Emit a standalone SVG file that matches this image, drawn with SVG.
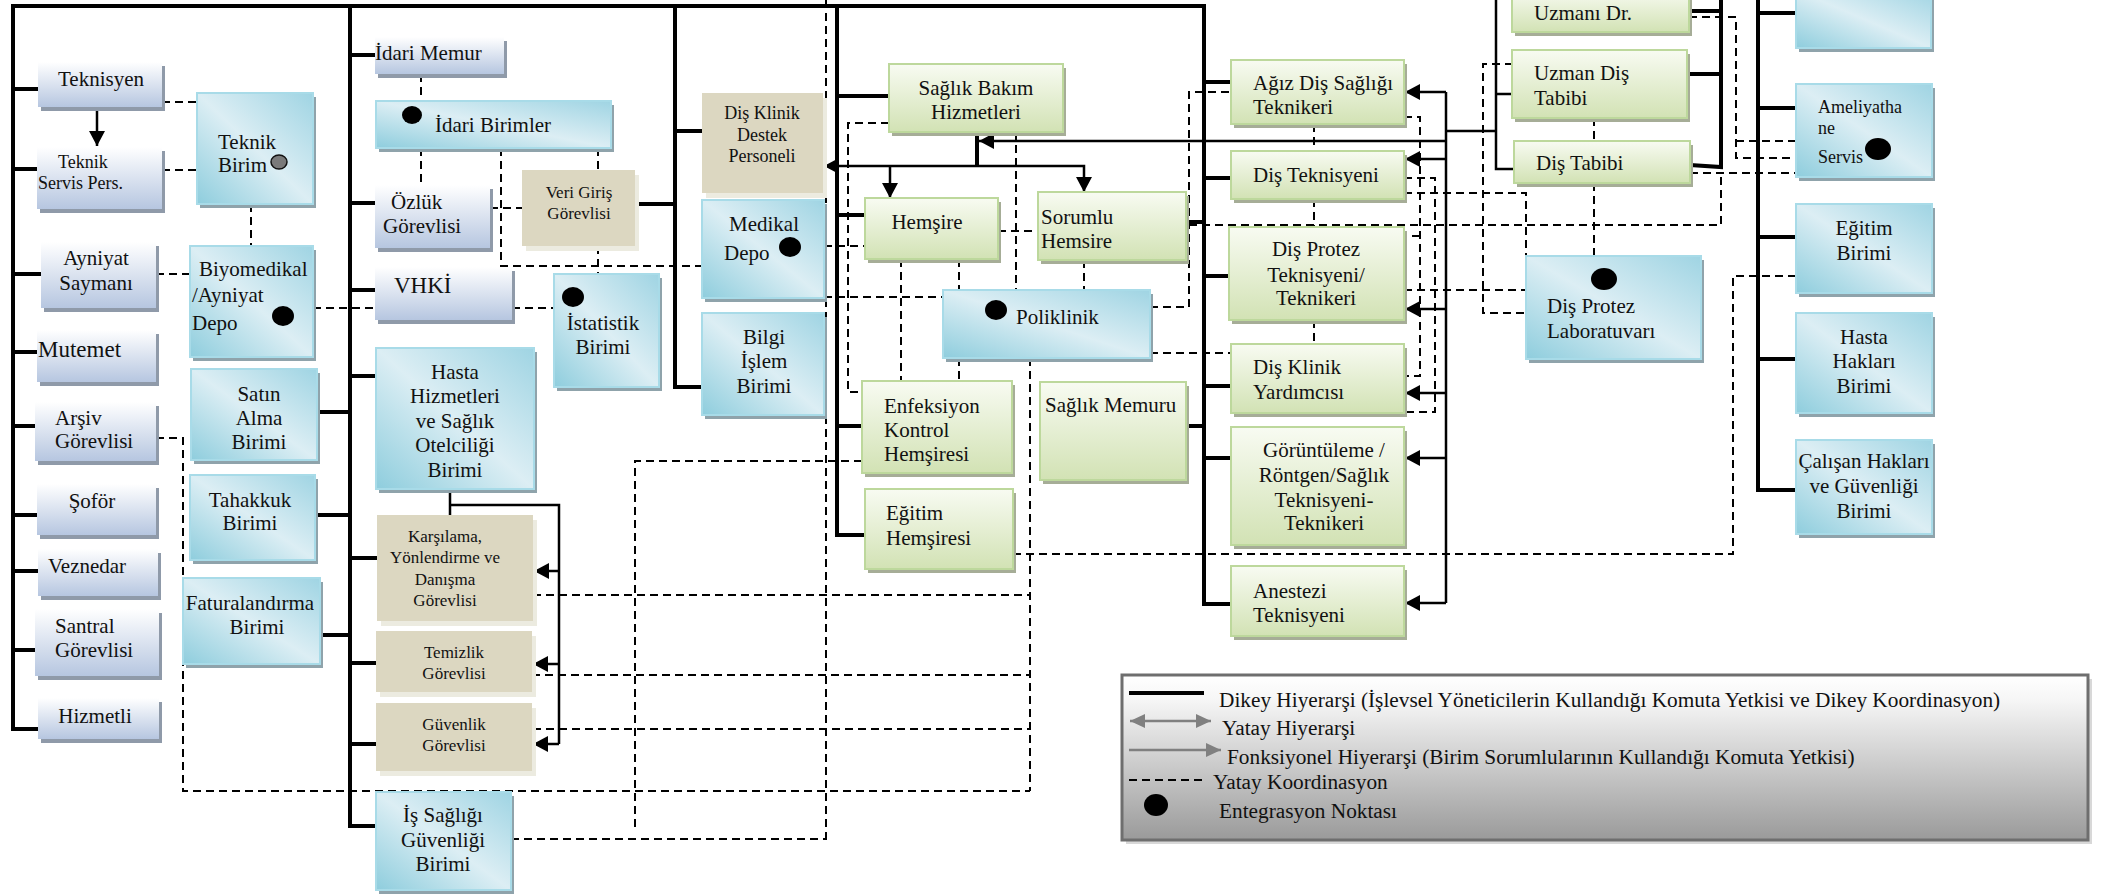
<svg xmlns="http://www.w3.org/2000/svg" width="2109" height="896" viewBox="0 0 2109 896">
<defs>
<linearGradient id="gBl" x1="0" y1="0" x2="0" y2="1"><stop offset="0" stop-color="#ffffff"/><stop offset="1" stop-color="#b6c6e0"/></linearGradient>
<linearGradient id="gCy" x1="0" y1="1" x2="1" y2="0"><stop offset="0" stop-color="#8ecddd"/><stop offset="0.5" stop-color="#dceef4"/><stop offset="1" stop-color="#9fd4e3"/></linearGradient>
<linearGradient id="gGr" x1="0" y1="0" x2="0" y2="1"><stop offset="0" stop-color="#f8fbf2"/><stop offset="1" stop-color="#d2e2b4"/></linearGradient>
<linearGradient id="gLg" x1="0" y1="0" x2="0" y2="1"><stop offset="0" stop-color="#ffffff"/><stop offset="0.15" stop-color="#f6f6f6"/><stop offset="1" stop-color="#9a9a9a"/></linearGradient>
<marker id="ah" markerUnits="userSpaceOnUse" markerWidth="16" markerHeight="16" refX="15" refY="8" orient="auto"><path d="M0,0 L15,8 L0,16 z" fill="#000"/></marker>
<marker id="ahg" markerUnits="userSpaceOnUse" markerWidth="16" markerHeight="16" refX="15" refY="8" orient="auto-start-reverse"><path d="M0,1 L15,8 L0,15 z" fill="#808080"/></marker>
<style>
.t{font-family:"Liberation Serif","Times New Roman",serif;fill:#111;font-size:21px}
.s{font-size:18px}
.s17{font-size:17px}
.b{font-size:23px}
.lg{font-size:21.3px}
.m{text-anchor:middle}
.bl{fill:url(#gBl)}
.shb{fill:#8f9aa9}
.cy{fill:url(#gCy);stroke:#a8dbe8;stroke-width:2}
.shc{fill:#8fa3ab}
.gr{fill:url(#gGr);stroke:#bdd89c;stroke-width:2}
.shg{fill:#a6ad97}
.bg{fill:#dcd7c1}
.shy{fill:#ecebe0}
.v{fill:none;stroke:#000;stroke-width:4}
.f{fill:none;stroke:#000;stroke-width:2.5}
.d{fill:none;stroke:#000;stroke-width:2;stroke-dasharray:8 5}
.dot{fill:#000}
</style>
</defs>
<rect width="2109" height="896" fill="#fff"/>

<g id="connectors">
<path class="v" d="M11,6 H1204 V604 H1231"/>
<path class="v" d="M13,6 V729 H38 M13,89 H38 M13,169 H37 M13,274 H41 M13,352 H37 M13,426 H35 M13,515 H37 M13,571 H38 M13,650 H35"/>
<path class="v" d="M350,6 V826 H376 M350,55 H375 M350,203 H375 M350,290 H375 M350,376 H376 M350,558 H377 M350,663 H376 M350,744 H376 M350,412 H317 M350,515 H315 M350,635 H320"/>
<path class="v" d="M675,6 V387 H702 M675,131 H702 M675,204 H635"/>
<path class="v" d="M837,6 V535 H865 M837,96 H889 M837,215 H865 M837,426 H862"/>
<path class="v" d="M1204,222 H1186 M1204,426 H1186 M1204,82 H1231 M1204,178 H1231 M1204,276 H1229 M1204,386 H1231 M1204,458 H1231"/>
<path class="v" d="M1721,0 V167 L1690,165 M1689,11 H1721 M1687,74 H1721"/>
<path class="v" d="M1758,0 V490 H1796 M1758,13 H1796 M1758,108 H1796 M1758,237 H1796 M1758,359 H1796"/>
<path class="v" d="M977,132 V166"/>
<path class="f" stroke-width="3" d="M97,107 V146" marker-end="url(#ah)"/>
<path class="f" stroke-width="3" d="M977,166 H824" marker-end="url(#ah)"/>
<path class="f" stroke-width="3" d="M977,166 H1084 V192" marker-end="url(#ah)"/>
<path class="f" stroke-width="3" d="M890,166 V198" marker-end="url(#ah)"/>
<path class="f" d="M1446,141 H979" marker-end="url(#ah)"/>
<path class="f" d="M1446,131 H1496 M1496,0 V169 H1514 M1496,94 H1512"/>
<path class="f" d="M1446,92 V603"/>
<path class="f" d="M1446,92 H1405" marker-end="url(#ah)"/>
<path class="f" d="M1446,159 H1405" marker-end="url(#ah)"/>
<path class="f" d="M1446,309 H1405" marker-end="url(#ah)"/>
<path class="f" d="M1446,393 H1405" marker-end="url(#ah)"/>
<path class="f" d="M1446,458 H1405" marker-end="url(#ah)"/>
<path class="f" d="M1446,603 H1405" marker-end="url(#ah)"/>
<path class="f" d="M450,489 V515 M450,505 H559 V744"/>
<path class="f" d="M559,571 H534" marker-end="url(#ah)"/>
<path class="f" d="M559,664 H533" marker-end="url(#ah)"/>
<path class="f" d="M559,744 H533" marker-end="url(#ah)"/>
<path class="d" d="M162,102 H197 M162,170 H197 M251,204 V246 M156,274 H190 M313,308 H375"/>
<path class="d" d="M156,438 H183 V791 H1030"/>
<path class="d" d="M421,74 V101 M421,148 V185 M501,148 V266 H702 M598,148 V170 M490,208 H522 M598,246 V274 M512,308 H554"/>
<path class="d" d="M826,0 V843 M511,839 H826"/>
<path class="d" d="M824,246 H865 M824,297 H943 M889,123 H848 V392 H862"/>
<path class="d" d="M998,231 H1038 M1016,132 V290 M901,259 V381 M959,259 V290 M959,358 V381 M1084,260 V290"/>
<path class="d" d="M1150,307 H1189 V92 H1231 M1189,225 H1721 V174 M1690,173 H1796 M1150,353 H1231"/>
<path class="d" d="M1314,124 V151 M1314,199 V227 M1314,320 V344"/>
<path class="d" d="M1404,117 H1420 V376 H1404 M1420,236 H1404 M1404,178 H1435 V412 H1404"/>
<path class="d" d="M1404,193 H1526 V256 M1404,290 H1526 M1513,64 H1483 V313 H1526 M1594,118 V141 M1594,183 V256"/>
<path class="d" d="M1689,17 H1736 V158 H1796 M1736,141 H1796"/>
<path class="d" d="M1013,554 H1733 V276 H1796"/>
<path class="d" d="M1030,358 V791 M533,595 H1030 M532,675 H1030 M533,729 H1030"/>
<path class="d" d="M862,461 H635 V831"/>
</g>

<g id="n-teknisyen"><rect class="shb" x="41" y="66" width="124" height="45"/><rect class="bl" x="38" y="62" width="124" height="45"/><text class="t m" x="101" y="86">Teknisyen</text></g>
<g id="n-teknikservis"><rect class="shb" x="40" y="151" width="125" height="62"/><rect class="bl" x="37" y="147" width="125" height="62"/><text class="t s" x="58" y="168">Teknik</text><text class="t s" x="38" y="189">Servis Pers.</text></g>
<g id="n-ayniyat"><rect class="shb" x="44" y="246" width="115" height="66"/><rect class="bl" x="41" y="242" width="115" height="66"/><text class="t m" x="96" y="265">Ayniyat</text><text class="t m" x="96" y="290">Saymanı</text></g>
<g id="n-mutemet"><rect class="shb" x="40" y="334" width="119" height="52"/><rect class="bl" x="37" y="330" width="119" height="52"/><text class="t b" x="38" y="357">Mutemet</text></g>
<g id="n-arsiv"><rect class="shb" x="38" y="406" width="121" height="59"/><rect class="bl" x="35" y="402" width="121" height="59"/><text class="t" x="55" y="425">Arşiv</text><text class="t" x="55" y="448">Görevlisi</text></g>
<g id="n-sofor"><rect class="shb" x="40" y="488" width="119" height="51"/><rect class="bl" x="37" y="484" width="119" height="51"/><text class="t m" x="92" y="508">Şoför</text></g>
<g id="n-veznedar"><rect class="shb" x="41" y="553" width="120" height="47"/><rect class="bl" x="38" y="549" width="120" height="47"/><text class="t" x="48" y="573">Veznedar</text></g>
<g id="n-santral"><rect class="shb" x="38" y="613" width="124" height="67"/><rect class="bl" x="35" y="609" width="124" height="67"/><text class="t" x="55" y="633">Santral</text><text class="t" x="55" y="657">Görevlisi</text></g>
<g id="n-hizmetli"><rect class="shb" x="41" y="702" width="121" height="41"/><rect class="bl" x="38" y="698" width="121" height="41"/><text class="t m" x="95" y="723">Hizmetli</text></g>

<g id="n-teknikbirim"><rect class="shc" x="200" y="97" width="116" height="111"/><rect class="cy" x="197" y="93" width="116" height="111"/><text class="t" x="218" y="149">Teknik</text><text class="t" x="218" y="172">Birim</text><ellipse cx="279" cy="162" rx="8" ry="7" fill="#7a7a7a" stroke="#111" stroke-width="1.5"/></g>
<g id="n-biyomedikal"><rect class="shc" x="193" y="250" width="123" height="111"/><rect class="cy" x="190" y="246" width="123" height="111"/><text class="t" x="199" y="276">Biyomedikal</text><text class="t" x="192" y="302">/Ayniyat</text><text class="t" x="192" y="330">Depo</text><ellipse class="dot" cx="283" cy="316" rx="11" ry="10"/></g>
<g id="n-satinalma"><rect class="shc" x="194" y="373" width="126" height="91"/><rect class="cy" x="191" y="369" width="126" height="91"/><text class="t m" x="259" y="401">Satın</text><text class="t m" x="259" y="425">Alma</text><text class="t m" x="259" y="449">Birimi</text></g>
<g id="n-tahakkuk"><rect class="shc" x="193" y="479" width="125" height="85"/><rect class="cy" x="190" y="475" width="125" height="85"/><text class="t m" x="250" y="507">Tahakkuk</text><text class="t m" x="250" y="530">Birimi</text></g>
<g id="n-fatura"><rect class="shc" x="186" y="582" width="137" height="86"/><rect class="cy" x="183" y="578" width="137" height="86"/><text class="t m" x="250" y="610">Faturalandırma</text><text class="t m" x="257" y="634">Birimi</text></g>

<g id="n-idarimemur"><rect class="shb" x="378" y="41" width="129" height="37"/><rect class="bl" x="375" y="37" width="129" height="37"/><text class="t" x="375" y="60">İdari Memur</text></g>
<g id="n-idaribirimler"><rect class="shc" x="379" y="105" width="235" height="47"/><rect class="cy" x="376" y="101" width="235" height="47"/><ellipse class="dot" cx="412" cy="115" rx="10" ry="9"/><text class="t" x="435" y="132">İdari Birimler</text></g>
<g id="n-ozluk"><rect class="shb" x="378" y="189" width="115" height="63"/><rect class="bl" x="375" y="185" width="115" height="63"/><text class="t" x="391" y="209">Özlük</text><text class="t" x="383" y="233">Görevlisi</text></g>
<g id="n-verigiris"><rect class="shy" x="526" y="175" width="113" height="76"/><rect class="bg" x="522" y="170" width="113" height="76"/><text class="t s17 m" x="579" y="198">Veri Giriş</text><text class="t s17 m" x="579" y="219">Görevlisi</text></g>
<g id="n-vhki"><rect class="shb" x="378" y="271" width="137" height="53"/><rect class="bl" x="375" y="267" width="137" height="53"/><text class="t b" x="394" y="293">VHKİ</text></g>
<g id="n-istatistik"><rect class="shc" x="557" y="278" width="105" height="113"/><rect class="cy" x="554" y="274" width="105" height="113"/><ellipse class="dot" cx="573" cy="297" rx="11" ry="10"/><text class="t m" x="603" y="330">İstatistik</text><text class="t m" x="603" y="354">Birimi</text></g>
<g id="n-hastahizmet"><rect class="shc" x="379" y="352" width="158" height="141"/><rect class="cy" x="376" y="348" width="158" height="141"/><text class="t m" x="455" y="379">Hasta</text><text class="t m" x="455" y="403">Hizmetleri</text><text class="t m" x="455" y="428">ve Sağlık</text><text class="t m" x="455" y="452">Otelciliği</text><text class="t m" x="455" y="477">Birimi</text></g>
<g id="n-karsilama"><rect class="shy" x="381" y="520" width="156" height="106"/><rect class="bg" x="377" y="515" width="156" height="106"/><text class="t s17 m" x="445" y="542">Karşılama,</text><text class="t s17 m" x="445" y="563">Yönlendirme ve</text><text class="t s17 m" x="445" y="585">Danışma</text><text class="t s17 m" x="445" y="606">Görevlisi</text></g>
<g id="n-temizlik"><rect class="shy" x="380" y="636" width="156" height="61"/><rect class="bg" x="376" y="631" width="156" height="61"/><text class="t s17 m" x="454" y="658">Temizlik</text><text class="t s17 m" x="454" y="679">Görevlisi</text></g>
<g id="n-guvenlik"><rect class="shy" x="380" y="708" width="156" height="68"/><rect class="bg" x="376" y="703" width="156" height="68"/><text class="t s17 m" x="454" y="730">Güvenlik</text><text class="t s17 m" x="454" y="751">Görevlisi</text></g>
<g id="n-issagligi"><rect class="shc" x="379" y="796" width="135" height="98"/><rect class="cy" x="376" y="792" width="135" height="98"/><text class="t m" x="443" y="822">İş Sağlığı</text><text class="t m" x="443" y="847">Güvenliği</text><text class="t m" x="443" y="871">Birimi</text></g>

<g id="n-disklinikdestek"><rect class="shy" x="706" y="98" width="121" height="100"/><rect class="bg" x="702" y="93" width="121" height="100"/><text class="t s m" x="762" y="119">Diş Klinik</text><text class="t s m" x="762" y="141">Destek</text><text class="t s m" x="762" y="162">Personeli</text></g>
<g id="n-medikal"><rect class="shc" x="705" y="204" width="122" height="98"/><rect class="cy" x="702" y="200" width="122" height="98"/><text class="t m" x="764" y="231">Medikal</text><text class="t" x="724" y="260">Depo</text><ellipse class="dot" cx="790" cy="247" rx="11" ry="10"/></g>
<g id="n-bilgiislem"><rect class="shc" x="705" y="317" width="122" height="102"/><rect class="cy" x="702" y="313" width="122" height="102"/><text class="t m" x="764" y="344">Bilgi</text><text class="t m" x="764" y="368">İşlem</text><text class="t m" x="764" y="393">Birimi</text></g>

<g id="n-saglikbakim"><rect class="shg" x="892" y="68" width="174" height="68"/><rect class="gr" x="889" y="64" width="174" height="68"/><text class="t m" x="976" y="95">Sağlık Bakım</text><text class="t m" x="976" y="119">Hizmetleri</text></g>
<g id="n-hemsire"><rect class="shg" x="868" y="202" width="133" height="61"/><rect class="gr" x="865" y="198" width="133" height="61"/><text class="t m" x="927" y="229">Hemşire</text></g>
<g id="n-sorumlu"><rect class="shg" x="1041" y="196" width="148" height="68"/><rect class="gr" x="1038" y="192" width="148" height="68"/><text class="t" x="1041" y="224">Sorumlu</text><text class="t" x="1041" y="248">Hemsire</text></g>
<g id="n-poliklinik"><rect class="shc" x="946" y="294" width="207" height="68"/><rect class="cy" x="943" y="290" width="207" height="68"/><ellipse class="dot" cx="996" cy="310" rx="11" ry="10"/><text class="t" x="1016" y="324">Poliklinik</text></g>
<g id="n-enfeksiyon"><rect class="shg" x="865" y="385" width="150" height="92"/><rect class="gr" x="862" y="381" width="150" height="92"/><text class="t" x="884" y="413">Enfeksiyon</text><text class="t" x="884" y="437">Kontrol</text><text class="t" x="884" y="461">Hemşiresi</text></g>
<g id="n-egitimhemsire"><rect class="shg" x="868" y="493" width="148" height="80"/><rect class="gr" x="865" y="489" width="148" height="80"/><text class="t" x="886" y="520">Eğitim</text><text class="t" x="886" y="545">Hemşiresi</text></g>
<g id="n-saglikmemuru"><rect class="shg" x="1043" y="386" width="146" height="98"/><rect class="gr" x="1040" y="382" width="146" height="98"/><text class="t" x="1045" y="412">Sağlık Memuru</text></g>

<g id="n-agizdis"><rect class="shg" x="1234" y="64" width="173" height="64"/><rect class="gr" x="1231" y="60" width="173" height="64"/><text class="t" x="1253" y="90">Ağız Diş Sağlığı</text><text class="t" x="1253" y="114">Teknikeri</text></g>
<g id="n-disteknisyeni"><rect class="shg" x="1234" y="155" width="173" height="48"/><rect class="gr" x="1231" y="151" width="173" height="48"/><text class="t" x="1253" y="182">Diş Teknisyeni</text></g>
<g id="n-disprotez"><rect class="shg" x="1232" y="231" width="175" height="93"/><rect class="gr" x="1229" y="227" width="175" height="93"/><text class="t m" x="1316" y="256">Diş Protez</text><text class="t m" x="1316" y="282">Teknisyeni/</text><text class="t m" x="1316" y="305">Teknikeri</text></g>
<g id="n-disklinikyard"><rect class="shg" x="1234" y="348" width="173" height="69"/><rect class="gr" x="1231" y="344" width="173" height="69"/><text class="t" x="1253" y="374">Diş Klinik</text><text class="t" x="1253" y="399">Yardımcısı</text></g>
<g id="n-goruntuleme"><rect class="shg" x="1234" y="431" width="173" height="118"/><rect class="gr" x="1231" y="427" width="173" height="118"/><text class="t m" x="1324" y="457">Görüntüleme /</text><text class="t m" x="1324" y="482">Röntgen/Sağlık</text><text class="t m" x="1324" y="507">Teknisyeni-</text><text class="t m" x="1324" y="530">Teknikeri</text></g>
<g id="n-anestezi"><rect class="shg" x="1234" y="570" width="173" height="70"/><rect class="gr" x="1231" y="566" width="173" height="70"/><text class="t" x="1253" y="598">Anestezi</text><text class="t" x="1253" y="622">Teknisyeni</text></g>

<g id="n-uzmandr"><rect class="shg" x="1515" y="-6" width="177" height="42"/><rect class="gr" x="1512" y="-10" width="177" height="42"/><text class="t" x="1534" y="20">Uzmanı Dr.</text></g>
<g id="n-uzmandis"><rect class="shg" x="1515" y="54" width="175" height="68"/><rect class="gr" x="1512" y="50" width="175" height="68"/><text class="t" x="1534" y="80">Uzman Diş</text><text class="t" x="1534" y="105">Tabibi</text></g>
<g id="n-distabibi"><rect class="shg" x="1517" y="145" width="176" height="42"/><rect class="gr" x="1514" y="141" width="176" height="42"/><text class="t" x="1536" y="170">Diş Tabibi</text></g>
<g id="n-disprotezlab"><rect class="shc" x="1529" y="260" width="175" height="103"/><rect class="cy" x="1526" y="256" width="175" height="103"/><ellipse class="dot" cx="1604" cy="279" rx="13" ry="11"/><text class="t" x="1547" y="313">Diş Protez</text><text class="t" x="1547" y="338">Laboratuvarı</text></g>

<g id="n-topright"><rect class="shc" x="1799" y="-6" width="135" height="58"/><rect class="cy" x="1796" y="-10" width="135" height="58"/></g>
<g id="n-ameliyathane"><rect class="shc" x="1799" y="88" width="136" height="93"/><rect class="cy" x="1796" y="84" width="136" height="93"/><text class="t s" x="1818" y="113">Ameliyatha</text><text class="t s" x="1818" y="134">ne</text><text class="t s" x="1818" y="163">Servis</text><ellipse class="dot" cx="1878" cy="149" rx="13" ry="11"/></g>
<g id="n-egitimbirimi"><rect class="shc" x="1799" y="208" width="136" height="89"/><rect class="cy" x="1796" y="204" width="136" height="89"/><text class="t m" x="1864" y="235">Eğitim</text><text class="t m" x="1864" y="260">Birimi</text></g>
<g id="n-hastahaklari"><rect class="shc" x="1799" y="317" width="136" height="100"/><rect class="cy" x="1796" y="313" width="136" height="100"/><text class="t m" x="1864" y="344">Hasta</text><text class="t m" x="1864" y="368">Hakları</text><text class="t m" x="1864" y="393">Birimi</text></g>
<g id="n-calisanhaklari"><rect class="shc" x="1799" y="444" width="136" height="94"/><rect class="cy" x="1796" y="440" width="136" height="94"/><text class="t m" x="1864" y="468">Çalışan Hakları</text><text class="t m" x="1864" y="493">ve Güvenliği</text><text class="t m" x="1864" y="518">Birimi</text></g>

<g id="legend">
<rect x="1126" y="679" width="966" height="165" fill="#d8d8d8"/>
<rect x="1122" y="675" width="966" height="165" fill="url(#gLg)" stroke="#6e6e6e" stroke-width="3"/>
<line x1="1129" y1="693" x2="1204" y2="693" stroke="#000" stroke-width="4"/>
<text class="t lg" x="1219" y="707">Dikey Hiyerarşi (İşlevsel Yöneticilerin Kullandığı Komuta Yetkisi ve Dikey Koordinasyon)</text>
<line x1="1130" y1="721" x2="1211" y2="721" stroke="#808080" stroke-width="2.5" marker-start="url(#ahg)" marker-end="url(#ahg)"/>
<text class="t lg" x="1222" y="735">Yatay Hiyerarşi</text>
<line x1="1129" y1="750" x2="1221" y2="750" stroke="#808080" stroke-width="2.5" marker-end="url(#ahg)"/>
<text class="t lg" x="1227" y="764">Fonksiyonel Hiyerarşi (Birim Sorumlularının Kullandığı Komuta Yetkisi)</text>
<line x1="1129" y1="780" x2="1205" y2="780" class="d"/>
<text class="t lg" x="1213" y="789">Yatay Koordinasyon</text>
<ellipse class="dot" cx="1156" cy="805" rx="12" ry="11"/>
<text class="t lg" x="1219" y="818">Entegrasyon Noktası</text>
</g>
</svg>
